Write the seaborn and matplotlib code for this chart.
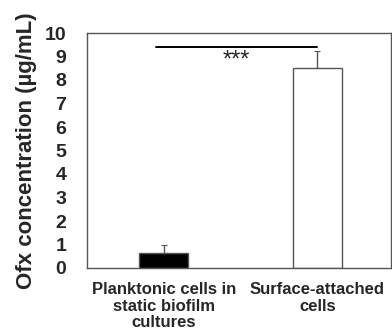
import matplotlib
matplotlib.use("Agg")
import matplotlib.pyplot as plt
import seaborn as sns
import pandas as pd

categories = ["Planktonic cells in\nstatic biofilm\ncultures", "Surface-attached\ncells"]
values = [0.63, 8.51]
errors = [0.33, 0.72]
bar_colors = ["black", "white"]
sig_level = 9.4
sig_label = "***"

df = pd.DataFrame({"group": categories, "ofx": values})

sns.set_style("white")
plt.rcParams["font.family"] = ["Liberation Sans", "DejaVu Sans"]
plt.rcParams["font.weight"] = "bold"

fig = plt.figure(figsize=(3.92, 3.32), dpi=100)
ax = fig.add_axes([87 / 392, 1 - 268 / 332, 304 / 392, 235 / 332])

sns.barplot(data=df, x="group", y="ofx", hue="group", palette=bar_colors,
            width=0.32, edgecolor="#555555", linewidth=1.0, legend=False, ax=ax)

# one-sided error bars (upper only)
ax.errorbar(range(len(values)), values, yerr=[[0] * len(errors), errors],
            fmt="none", ecolor="#555555", elinewidth=1.0, capsize=2, capthick=0.8)

# significance bracket
ax.plot([-0.05, 1.0], [sig_level, sig_level], color="black", linewidth=1.4)
ax.text(0.47, sig_level - 0.1, sig_label, ha="center", va="top", fontsize=17,
        fontweight="normal")

ax.set_xlim(-0.5, 1.48)
ax.set_ylim(0, 10)
ax.set_yticks(range(0, 11))
ax.set_xticks([-0.5, 0.5])
ax.set_xticks([0, 1], minor=True)
ax.set_xticklabels([])
ax.set_xticklabels(categories, minor=True, fontsize=12, fontweight="bold",
                   linespacing=1.15)
ax.tick_params(axis="x", which="minor", length=0, pad=10)
ax.tick_params(axis="x", which="major", length=4, color="#555555", direction="out")
ax.tick_params(axis="y", length=6, color="#555555", direction="out", labelsize=14, pad=9)
for lbl in ax.get_yticklabels():
    lbl.set_fontweight("bold")

for side in ["left", "right", "top", "bottom"]:
    ax.spines[side].set_visible(True)
    ax.spines[side].set_color("#555555")
    ax.spines[side].set_linewidth(1.0)

ax.set_xlabel("")
ax.set_ylabel("Ofx concentration (µg/mL)", fontsize=16, fontweight="bold")
ax.yaxis.set_label_coords(-50 / 304, 0.5)

fig.savefig("out.png", dpi=100)
